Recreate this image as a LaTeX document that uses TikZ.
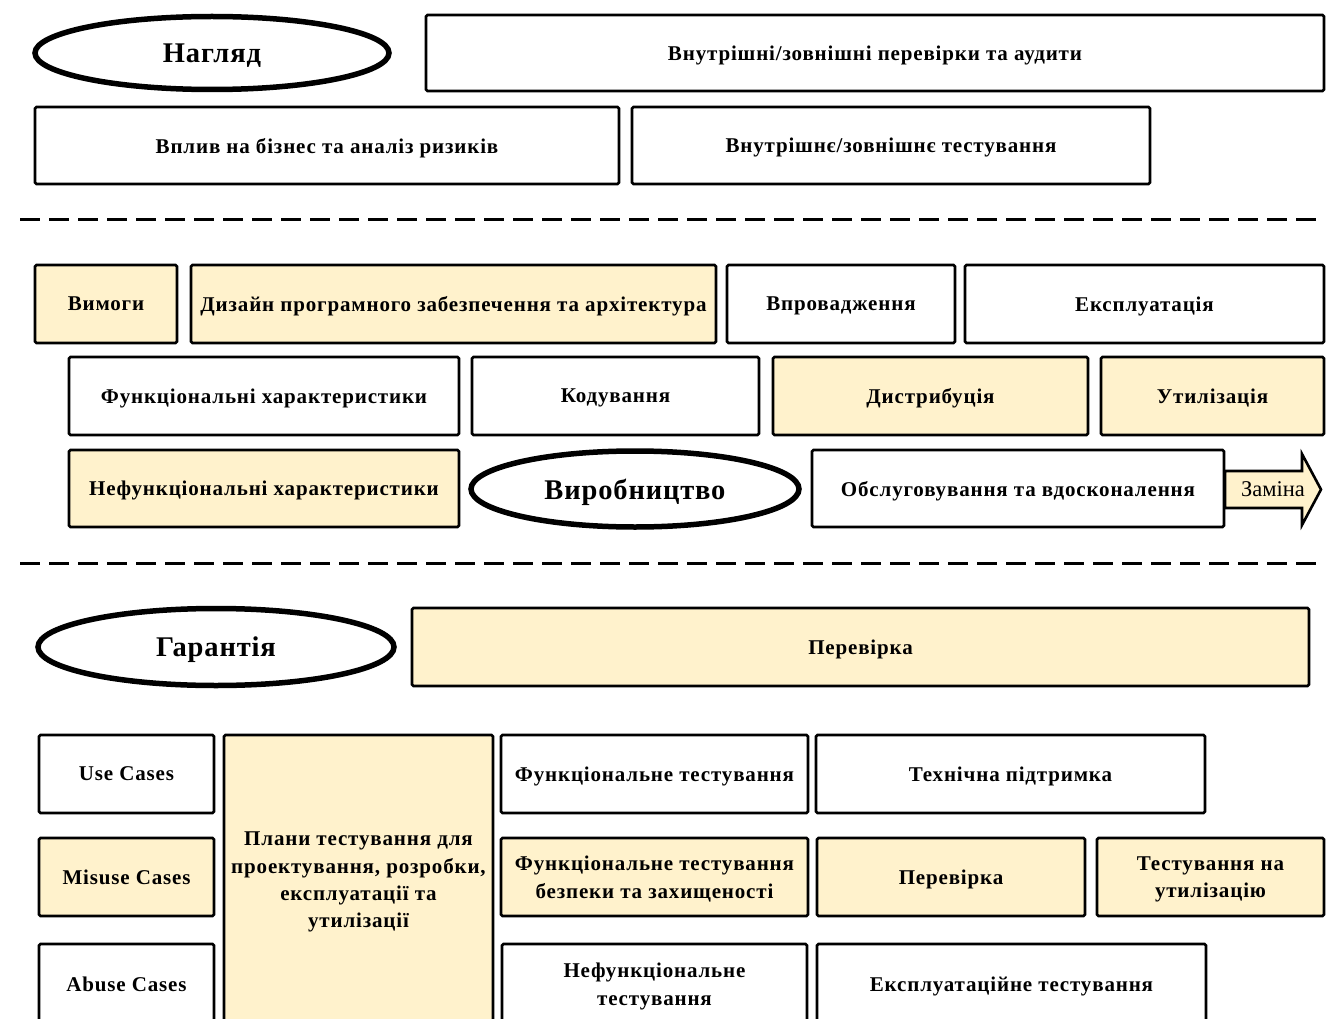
\documentclass[tikz,border=0pt]{standalone}
\usepackage{fontspec}
\setmainfont{Liberation Serif}
\newfontfamily\spaced[LetterSpace=4]{Liberation Serif}
\newfontfamily\spacedb[LetterSpace=3]{Liberation Serif}
\usetikzlibrary{shapes.geometric}
\definecolor{cream}{HTML}{FFF2CC}
\tikzset{
  box/.style={draw, line width=2.6pt, rounded corners=1.5pt, fill=white, align=center, inner sep=0pt,
    text depth=0pt, font=\spaced\bfseries\fontsize{21}{27.5}\selectfont},
  ybox/.style={box, fill=cream},
  ell/.style={draw, ellipse, line width=5.5pt, fill=white, inner sep=0pt, text depth=0pt,
    font=\spacedb\bfseries\fontsize{28.5}{32}\selectfont},
  sep/.style={line width=3pt, dash pattern=on 20pt off 9pt}
}
\newcommand{\mybox}[7]{%
  \pgfmathsetmacro{\cx}{(#2+#4)/2}\pgfmathsetmacro{\cy}{(#3+#5)/2}%
  \pgfmathsetmacro{\ww}{#4-#2}\pgfmathsetmacro{\hh}{#5-#3}%
  \node[#6, minimum width=\ww pt, minimum height=\hh pt] (#1) at (\cx,\cy) {#7};}
\begin{document}
\begin{tikzpicture}[x=1pt,y=-1pt]
\useasboundingbox (0,0) rectangle (1333,1019);
\clip (0,0) rectangle (1333,1019);
% Section 1
\node[ell, minimum width=354pt, minimum height=73pt] (nahliad) at (212,53) {Нагляд};
\mybox{audyt}{426}{15}{1324}{91}{box}{Внутрішні/зовнішні перевірки та аудити}
\mybox{vplyv}{35}{107}{619}{184}{box}{Вплив на бізнес та аналіз ризиків}
\mybox{test}{632}{107}{1150}{184}{box}{Внутрішнє/зовнішнє тестування}
\coordinate (d1a) at (20,220); \coordinate (d1b) at (1325,220);
\draw[sep] (d1a) -- (d1b);
% Section 2
\mybox{vymohy}{35}{265}{177}{343}{ybox}{Вимоги}
\mybox{dyzain}{191}{265}{716}{343}{ybox}{Дизайн програмного забезпечення та архітектура}
\mybox{vprov}{727}{265}{955}{343}{box}{Впровадження}
\mybox{ekspl}{965}{265}{1324}{343}{box}{Експлуатація}
\mybox{funk}{69}{357}{459}{435}{box}{Функціональні характеристики}
\mybox{kod}{472}{357}{759}{435}{box}{Кодування}
\mybox{dystr}{773}{357}{1088}{435}{ybox}{Дистрибуція}
\mybox{utyl}{1101}{357}{1324}{435}{ybox}{Утилізація}
\mybox{nefunk}{69}{450}{459}{527}{ybox}{Нефункціональні характеристики}
\node[ell, minimum width=328pt, minimum height=76pt] (vyrob) at (635,489) {Виробництво};
\mybox{obsl}{812}{450}{1224}{527}{box}{Обслуговування та вдосконалення}
\draw[line width=2.6pt, fill=cream, line join=miter]
  (1225,471) -- (1302,471) -- (1302,454) -- (1321,489.5) -- (1302,525) -- (1302,508) -- (1225,508) -- cycle;
\node[font=\fontsize{22.5}{25}\selectfont, inner sep=0pt, text depth=0pt] (zamina) at (1273,489) {Заміна};
\coordinate (d2a) at (20,563); \coordinate (d2b) at (1325,563);
\draw[sep] (d2a) -- (d2b);
% Section 3
\node[ell, minimum width=356pt, minimum height=77pt] (harant) at (216,647) {Гарантія};
\mybox{perev}{412}{608}{1309}{686}{ybox}{Перевірка}
\mybox{use}{39}{735}{214}{813}{box}{Use Cases}
\mybox{plany}{224}{735}{493}{1024}{ybox}{}
\node[font=\spaced\bfseries\fontsize{21}{27.4}\selectfont, align=center, inner sep=0pt, text depth=0pt] (planytxt) at (358.5,880) {Плани тестування для\\проектування, розробки,\\експлуатації та\\утилізації};
\mybox{ftest}{501}{735}{808}{813}{box}{Функціональне тестування}
\mybox{tekh}{816}{735}{1205}{813}{box}{Технічна підтримка}
\mybox{misuse}{39}{838}{214}{916}{ybox}{Misuse Cases}
\mybox{fbez}{501}{838}{808}{916}{ybox}{Функціональне тестування\\безпеки та захищеності}
\mybox{perev2}{817}{838}{1085}{916}{ybox}{Перевірка}
\mybox{tutyl}{1097}{838}{1324}{916}{ybox}{Тестування на\\утилізацію}
\mybox{abuse}{39}{944}{214}{1024}{box}{Abuse Cases}
\mybox{nftest}{502}{944}{807}{1024}{box}{Нефункціональне\\тестування}
\mybox{eksptest}{817}{944}{1206}{1024}{box}{Експлуатаційне тестування}
\end{tikzpicture}
\end{document}
